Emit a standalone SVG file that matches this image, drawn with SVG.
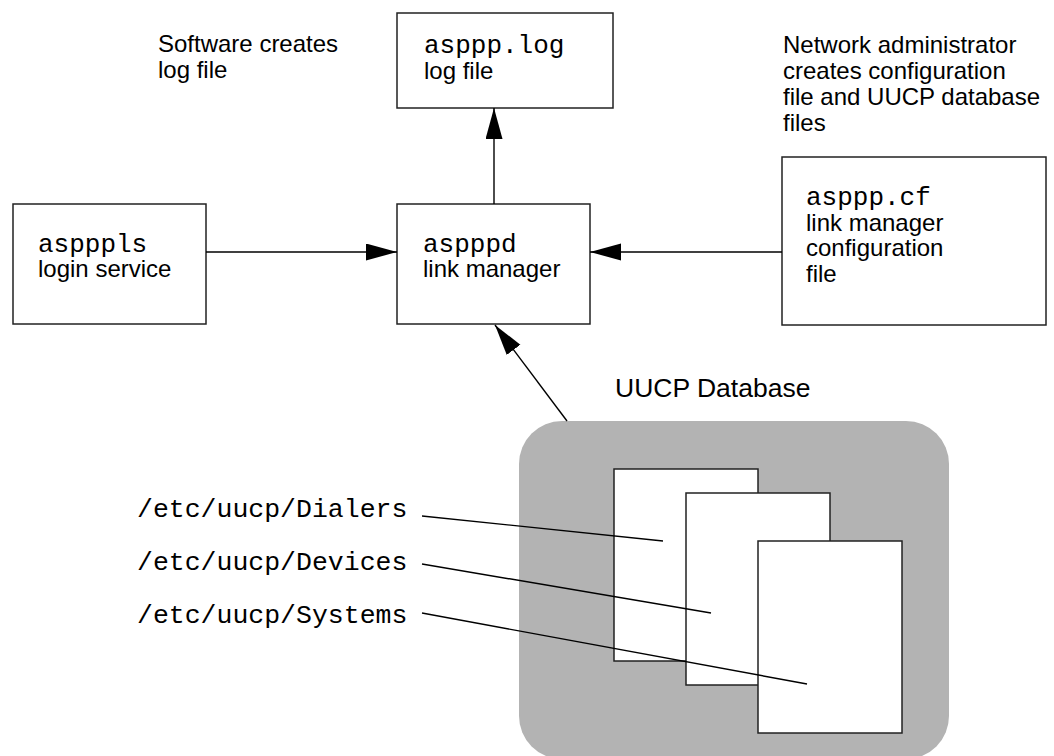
<svg xmlns="http://www.w3.org/2000/svg" width="1054" height="756" viewBox="0 0 1054 756">
<style>
.box{fill:#fff;stroke:#222;stroke-width:1.5}
.sheet{fill:#fff;stroke:#222;stroke-width:1.5}
.ln{fill:none;stroke:#000;stroke-width:1.4}
.sans{font-family:"Liberation Sans",Arial,sans-serif;font-size:24px;fill:#000}
.mono{font-family:"Liberation Mono","Courier New",monospace;font-size:26px;fill:#000}
.big{font-family:"Liberation Sans",Arial,sans-serif;font-size:26.5px;fill:#000}
</style>
<defs>
<marker id="ah" markerUnits="userSpaceOnUse" markerWidth="32" markerHeight="18" refX="31" refY="8.5" orient="auto">
<path d="M0,0 L31,8.5 L0,17 z" fill="#000"/>
</marker>
</defs>
<rect width="1054" height="756" fill="#fff"/>

<g id="note-software">
<text class="sans" x="158" y="52">Software creates</text>
<text class="sans" x="158" y="78">log file</text>
</g>

<g id="note-admin">
<text class="sans" x="783" y="53">Network administrator</text>
<text class="sans" x="783" y="79">creates configuration</text>
<text class="sans" x="783" y="105">file and UUCP database</text>
<text class="sans" x="783" y="131">files</text>
</g>

<g id="logfile">
<rect class="box" x="397" y="13" width="216" height="95"/>
<text class="mono" x="424" y="53">asppp.log</text>
<text class="sans" x="424" y="78.5">log file</text>
</g>

<g id="aspppls">
<rect class="box" x="13" y="204" width="193" height="120"/>
<text class="mono" x="38" y="252">aspppls</text>
<text class="sans" x="38" y="277">login service</text>
</g>

<g id="aspppd">
<rect class="box" x="397" y="204" width="193" height="120"/>
<text class="mono" x="423" y="252">aspppd</text>
<text class="sans" x="423" y="277">link manager</text>
</g>

<g id="aspppcf">
<rect class="box" x="782" y="157" width="264" height="168"/>
<text class="mono" x="806" y="205">asppp.cf</text>
<text class="sans" x="806" y="231">link manager</text>
<text class="sans" x="806" y="256">configuration</text>
<text class="sans" x="806" y="282">file</text>
</g>

<g id="uucp-db">
<text class="big" x="615" y="397">UUCP Database</text>
<rect x="519" y="421" width="430" height="338" rx="43" ry="43" fill="#b3b3b3"/>
<rect class="sheet" x="614" y="469" width="144" height="192"/>
<rect class="sheet" x="686" y="493" width="144" height="192"/>
<rect class="sheet" x="758" y="541" width="144" height="192"/>
</g>

<g id="uucp-labels">
<text class="mono" x="137" y="517" style="font-size:26.5px">/etc/uucp/Dialers</text>
<text class="mono" x="137" y="570" style="font-size:26.5px">/etc/uucp/Devices</text>
<text class="mono" x="137" y="623" style="font-size:26.5px">/etc/uucp/Systems</text>
</g>

<g id="connectors">
<line class="ln" x1="206" y1="252" x2="397" y2="252" marker-end="url(#ah)"/>
<line class="ln" x1="782" y1="252" x2="590" y2="252" marker-end="url(#ah)"/>
<line class="ln" x1="494" y1="204" x2="494" y2="108" marker-end="url(#ah)"/>
<line class="ln" x1="567" y1="421" x2="495" y2="325" marker-end="url(#ah)"/>
<line class="ln" x1="422" y1="516" x2="663" y2="541"/>
<line class="ln" x1="422" y1="564" x2="711" y2="613"/>
<line class="ln" x1="422" y1="613" x2="807" y2="684"/>
</g>
</svg>
